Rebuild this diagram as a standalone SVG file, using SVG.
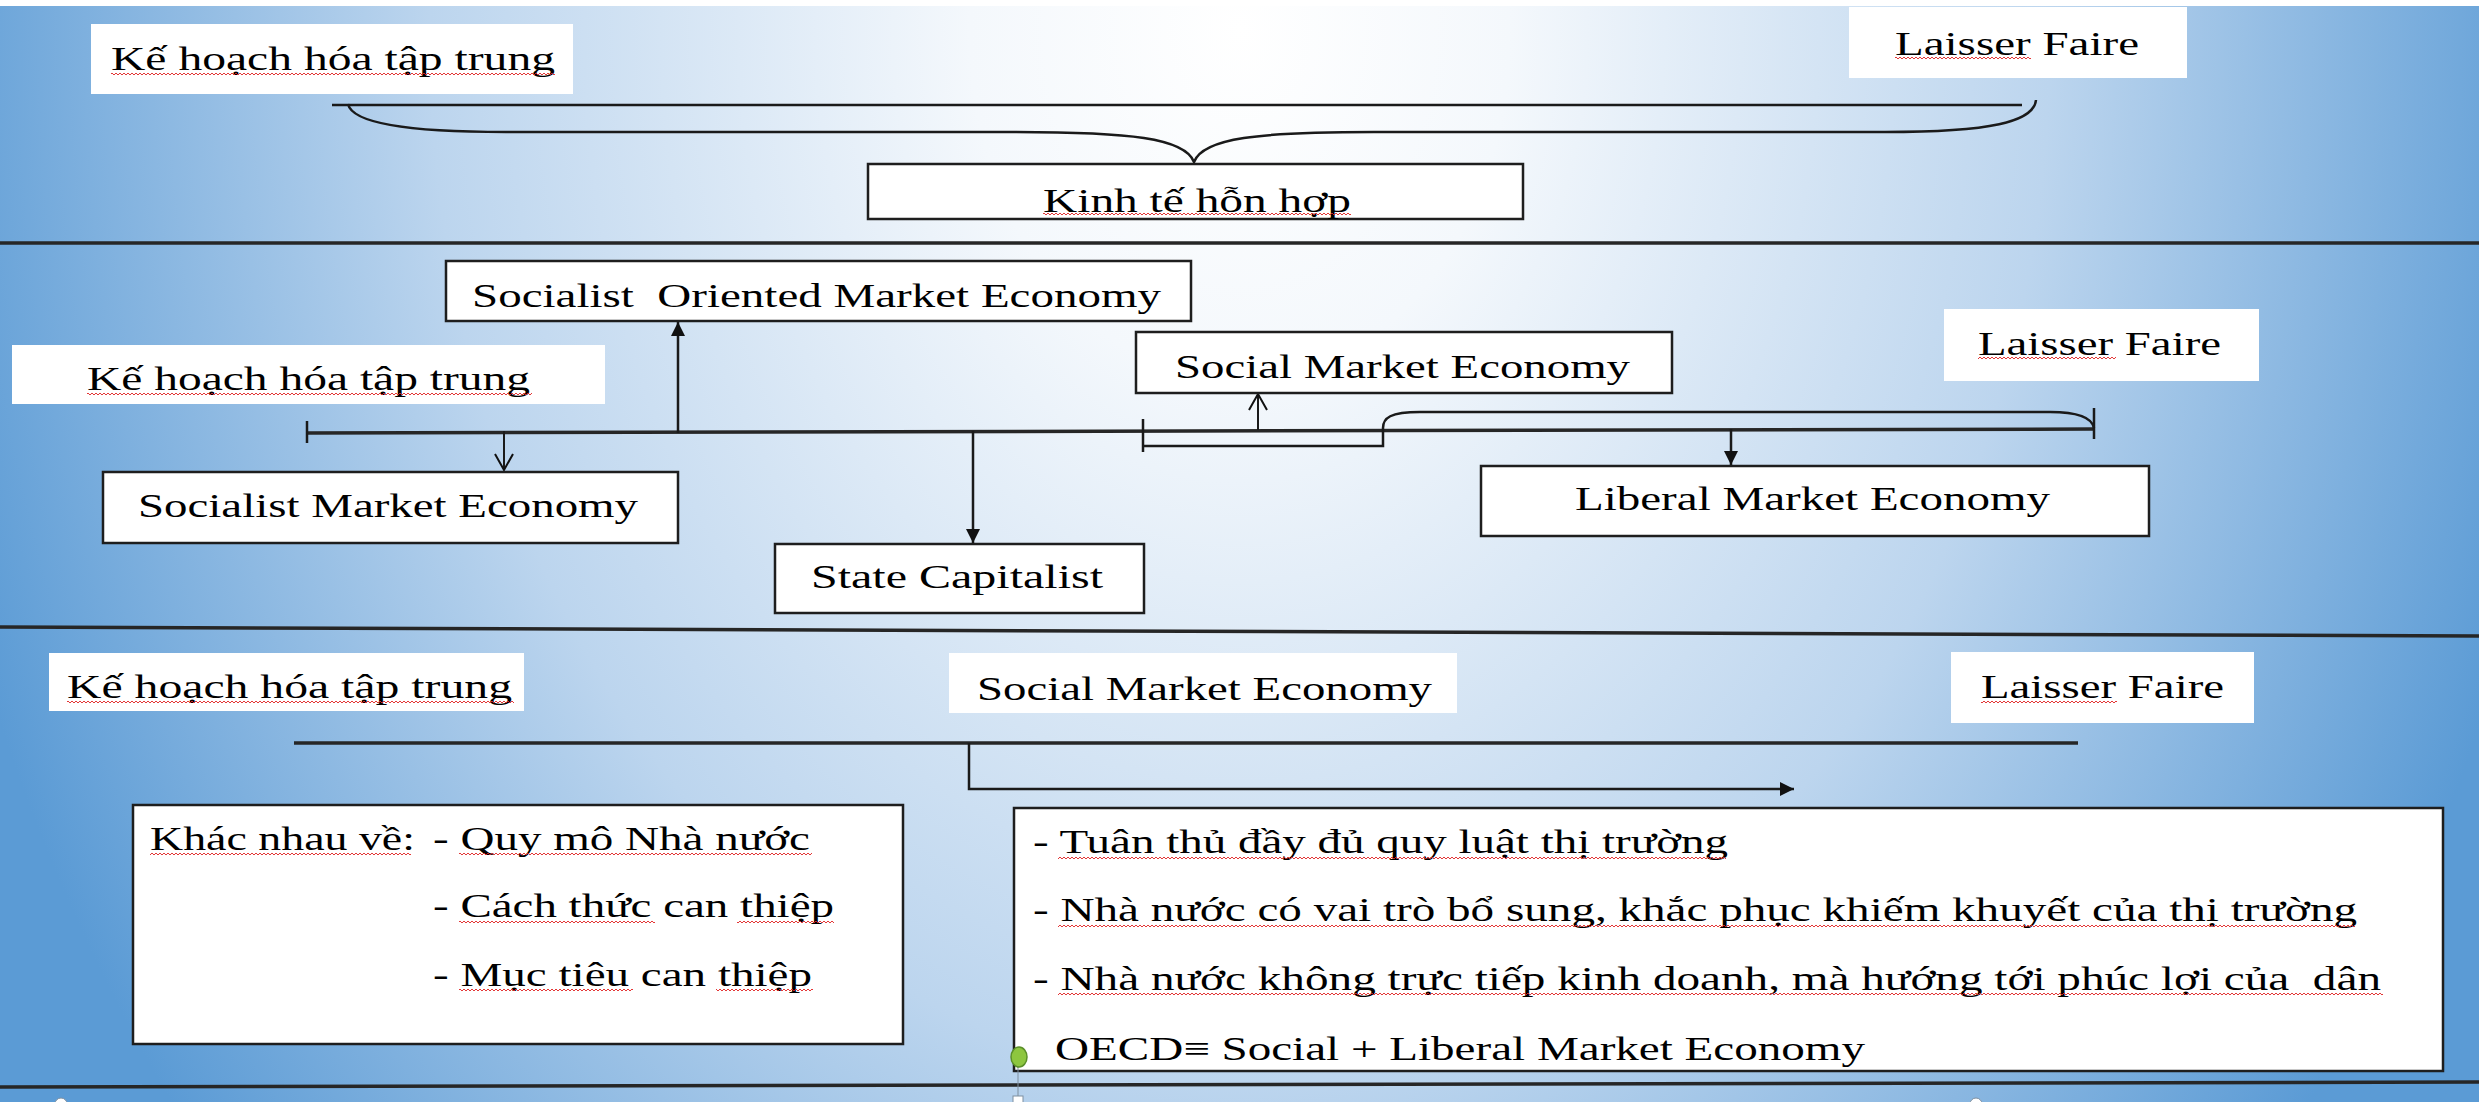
<svg xmlns="http://www.w3.org/2000/svg" width="2479" height="1102" viewBox="0 0 2479 1102">
<style>
text { font-family: "Liberation Serif", "Times New Roman", serif; font-size: 34px; fill: #000; white-space: pre; }
.box { fill: #fff; stroke: #1e1e1e; stroke-width: 2.5; }
.plain { fill: #fff; }
.ln { fill: none; stroke: #1a1a1a; stroke-width: 2.5; }
.thin { fill: none; stroke: #1a1a1a; stroke-width: 2; }
.sep { fill: none; stroke: #262626; stroke-width: 3.5; }
.wv { fill: url(#wavy); }
</style>
<defs>
<radialGradient id="bg" gradientUnits="userSpaceOnUse" cx="1240" cy="30" r="1350" gradientTransform="translate(1240 30) scale(1 1.3) translate(-1240 -30)">
<stop offset="0" stop-color="#ffffff"/>
<stop offset="0.2" stop-color="#f4f8fc"/>
<stop offset="0.6" stop-color="#bcd5ee"/>
<stop offset="1" stop-color="#5b9bd5"/>
</radialGradient>
<pattern id="wavy" patternUnits="userSpaceOnUse" width="4" height="4">
<path d="M0,1 L2,3 L4,1" fill="none" stroke="#e02020" stroke-width="0.9"/>
</pattern>
<marker id="fill" markerUnits="userSpaceOnUse" markerWidth="16" markerHeight="16" refX="14" refY="7" orient="auto">
<path d="M0,0 L14,7 L0,14 z" fill="#111"/>
</marker>
<marker id="open" markerUnits="userSpaceOnUse" markerWidth="20" markerHeight="22" refX="17" refY="10" orient="auto">
<path d="M1,1 L17,10 L1,19" fill="none" stroke="#111" stroke-width="2"/>
</marker>
</defs>

<rect x="0" y="0" width="2479" height="1102" fill="url(#bg)"/>
<rect x="0" y="0" width="2479" height="6" fill="#ffffff"/>

<g id="separators">
<line class="sep" x1="0" y1="243" x2="2479" y2="243"/>
<line class="sep" x1="0" y1="627" x2="2479" y2="636"/>
<line class="sep" x1="0" y1="1087" x2="2479" y2="1082"/>
</g>

<g id="connectors">
<path class="ln" d="M332,105 H2022"/>
<path class="ln" d="M348,104 C352,122 400,132 506,132 H1012 C1130,132 1185,138 1194,162 C1203,138 1258,132 1374,132 H1885 C1990,132 2034,122 2036,100"/>
<path class="sep" d="M307,433 L2094,429"/>
<path class="ln" d="M307,421 V443"/>
<path class="ln" d="M2094,408 V439"/>
<path class="ln" d="M1143,419 V452 M1143,446 H1383 V428 C1383,418 1390,412 1420,412 H2050 C2080,412 2092,418 2094,428"/>
<path class="ln" d="M678,433 V322" marker-end="url(#fill)"/>
<path class="thin" d="M504,431 V470" marker-end="url(#open)"/>
<path class="ln" d="M973,431 V543" marker-end="url(#fill)"/>
<path class="thin" d="M1258,430 V394" marker-end="url(#open)"/>
<path class="ln" d="M1731,429 V465" marker-end="url(#fill)"/>
<path class="sep" d="M294,743 H2078"/>
<path class="ln" d="M969,743 V789 H1794" marker-end="url(#fill)"/>
</g>

<g id="n-khtt-1">
<rect class="plain" x="91" y="24" width="482" height="70"/>
<text x="111" y="70" textLength="444" lengthAdjust="spacingAndGlyphs">Kế hoạch hóa tập trung</text>
<rect class="wv" x="111" y="72" width="444" height="4"/>
</g>
<g id="n-laisser-1">
<rect class="plain" x="1849" y="7" width="338" height="71"/>
<text x="1895" y="55" textLength="244" lengthAdjust="spacingAndGlyphs">Laisser Faire</text>
<rect class="wv" x="1895" y="57" width="136" height="4"/>
</g>
<g id="n-kinhte">
<rect class="box" x="868" y="164" width="655" height="55"/>
<text x="1043" y="212" textLength="308" lengthAdjust="spacingAndGlyphs">Kinh tế hỗn hợp</text>
<rect class="wv" x="1043" y="213" width="308" height="4"/>
</g>

<g id="n-some">
<rect class="box" x="446" y="261" width="745" height="60"/>
<text x="472" y="307" textLength="689" lengthAdjust="spacingAndGlyphs" xml:space="preserve">Socialist  Oriented Market Economy</text>
</g>
<g id="n-khtt-2">
<rect class="plain" x="12" y="345" width="593" height="59"/>
<text x="87" y="390" textLength="443" lengthAdjust="spacingAndGlyphs">Kế hoạch hóa tập trung</text>
<rect class="wv" x="87" y="392" width="445" height="4"/>
</g>
<g id="n-sme">
<rect class="box" x="103" y="472" width="575" height="71"/>
<text x="138" y="517" textLength="500" lengthAdjust="spacingAndGlyphs">Socialist Market Economy</text>
</g>
<g id="n-state">
<rect class="box" x="775" y="544" width="369" height="69"/>
<text x="811" y="588" textLength="292" lengthAdjust="spacingAndGlyphs">State Capitalist</text>
</g>
<g id="n-social-2">
<rect class="box" x="1136" y="332" width="536" height="61"/>
<text x="1175" y="378" textLength="455" lengthAdjust="spacingAndGlyphs">Social Market Economy</text>
</g>
<g id="n-liberal">
<rect class="box" x="1481" y="466" width="668" height="70"/>
<text x="1575" y="510" textLength="475" lengthAdjust="spacingAndGlyphs">Liberal Market Economy</text>
</g>
<g id="n-laisser-2">
<rect class="plain" x="1944" y="309" width="315" height="72"/>
<text x="1978" y="355" textLength="243" lengthAdjust="spacingAndGlyphs">Laisser Faire</text>
<rect class="wv" x="1978" y="357" width="138" height="4"/>
</g>

<g id="n-khtt-3">
<rect class="plain" x="49" y="653" width="475" height="58"/>
<text x="67" y="698" textLength="445" lengthAdjust="spacingAndGlyphs">Kế hoạch hóa tập trung</text>
<rect class="wv" x="67" y="700" width="447" height="4"/>
</g>
<g id="n-social-3">
<rect class="plain" x="949" y="653" width="508" height="60"/>
<text x="977" y="700" textLength="455" lengthAdjust="spacingAndGlyphs">Social Market Economy</text>
</g>
<g id="n-laisser-3">
<rect class="plain" x="1951" y="652" width="303" height="71"/>
<text x="1981" y="698" textLength="243" lengthAdjust="spacingAndGlyphs">Laisser Faire</text>
<rect class="wv" x="1981" y="700" width="136" height="4"/>
</g>

<g id="n-khac">
<rect class="box" x="133" y="805" width="770" height="239"/>
<text x="150" y="850" textLength="265" lengthAdjust="spacingAndGlyphs">Khác nhau về:</text>
<text x="433" y="850" textLength="377" lengthAdjust="spacingAndGlyphs">- Quy mô Nhà nước</text>
<text x="433" y="917" textLength="401" lengthAdjust="spacingAndGlyphs">- Cách thức can thiệp</text>
<text x="433" y="986" textLength="379" lengthAdjust="spacingAndGlyphs">- Mục tiêu can thiệp</text>
<rect class="wv" x="150" y="852" width="261" height="4"/>
<rect class="wv" x="459" y="852" width="353" height="4"/>
<rect class="wv" x="459" y="919" width="196" height="4"/>
<rect class="wv" x="737" y="919" width="97" height="4"/>
<rect class="wv" x="459" y="988" width="174" height="4"/>
<rect class="wv" x="716" y="988" width="97" height="4"/>
</g>

<g id="n-features">
<rect class="box" x="1014" y="808" width="1429" height="263"/>
<text x="1033" y="853" textLength="695" lengthAdjust="spacingAndGlyphs">- Tuân thủ đầy đủ quy luật thị trường</text>
<text x="1033" y="921" textLength="1324" lengthAdjust="spacingAndGlyphs">- Nhà nước có vai trò bổ sung, khắc phục khiếm khuyết của thị trường</text>
<text x="1033" y="990" textLength="1348" lengthAdjust="spacingAndGlyphs" xml:space="preserve">- Nhà nước không trực tiếp kinh doanh, mà hướng tới phúc lợi của  dân</text>
<text x="1055" y="1060" textLength="810" lengthAdjust="spacingAndGlyphs">OECD≡ Social + Liberal Market Economy</text>
<rect class="wv" x="1058" y="855" width="668" height="4"/>
<rect class="wv" x="1058" y="923" width="1297" height="4"/>
<rect class="wv" x="1058" y="992" width="1325" height="4"/>
</g>

<g id="handles">
<line x1="1018" y1="1066" x2="1018" y2="1097" stroke="#7f8f9f" stroke-width="1"/>
<ellipse cx="1019" cy="1057" rx="8" ry="10" fill="#8dc63f" stroke="#5a8f29" stroke-width="1.5"/>
<rect x="1013" y="1096" width="10" height="10" fill="#fff" stroke="#7f8f9f" stroke-width="1"/>
<circle cx="61" cy="1104" r="6" fill="#fff" stroke="#7f8f9f" stroke-width="1"/>
<circle cx="1976" cy="1104" r="6" fill="#fff" stroke="#7f8f9f" stroke-width="1"/>
</g>
</svg>
